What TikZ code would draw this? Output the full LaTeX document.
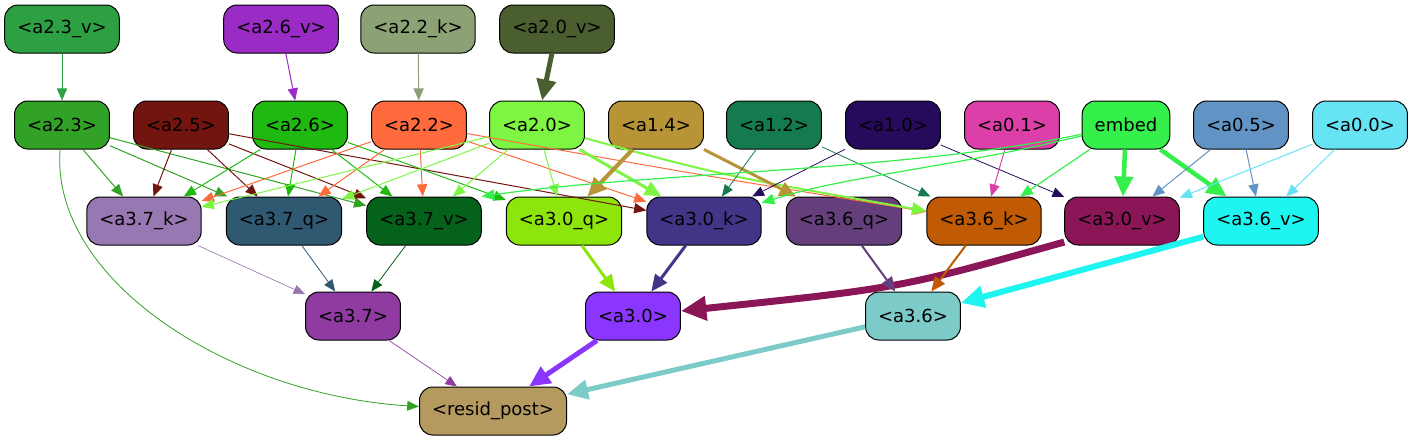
\documentclass[tikz,border=0pt]{standalone}
\usepackage{fontspec}
\setmainfont{DejaVu Sans}
\usetikzlibrary{arrows.meta}

\definecolor{cAtwoTv}{HTML}{2CA043}
\definecolor{cAtwoSv}{HTML}{9A2BC5}
\definecolor{cAtwoBk}{HTML}{8DA274}
\definecolor{cAtwoZv}{HTML}{4A5E30}
\definecolor{cAtwoT}{HTML}{31A225}
\definecolor{cAtwoF}{HTML}{73150F}
\definecolor{cAtwoS}{HTML}{1FB912}
\definecolor{cAtwoB}{HTML}{FF6B3D}
\definecolor{cAtwoZ}{HTML}{7EF542}
\definecolor{cAoneF}{HTML}{B79435}
\definecolor{cAoneB}{HTML}{167A4F}
\definecolor{cAoneZ}{HTML}{260A5C}
\definecolor{cAzeroO}{HTML}{DD3FA8}
\definecolor{cEmbed}{HTML}{35EF4A}
\definecolor{cAzeroF}{HTML}{6193C4}
\definecolor{cAzeroZ}{HTML}{66E4F4}
\definecolor{cSevK}{HTML}{9878B2}
\definecolor{cSevQ}{HTML}{2F5871}
\definecolor{cSevV}{HTML}{05621B}
\definecolor{cZerQ}{HTML}{8DE50B}
\definecolor{cZerK}{HTML}{423587}
\definecolor{cSixQ}{HTML}{643F7B}
\definecolor{cSixK}{HTML}{C05A05}
\definecolor{cZerV}{HTML}{8A1657}
\definecolor{cSixV}{HTML}{1FF5F0}
\definecolor{cSev}{HTML}{8F3BA2}
\definecolor{cZer}{HTML}{8B36FC}
\definecolor{cSix}{HTML}{7CCBC9}
\definecolor{cResid}{HTML}{B59A60}

\begin{document}
\begin{tikzpicture}[x=0.75pt, y=-0.75pt,
	box/.style={draw=black, line width=0.75pt, rounded corners=10pt,
		minimum height=36pt, inner xsep=9.4pt, inner ysep=0pt,
		font=\fontsize{13.5}{16}\selectfont},
	wire/.style={-{Triangle[length=7.5pt 2.2, width=6pt 2.2]}, line width=0.75pt}]
	
	\useasboundingbox (0,0) rectangle (1413,443);
	
	% top inputs
	\node[box, fill=cAtwoTv] (a23v) at (62,29) {<a2.3\_v>};
	\node[box, fill=cAtwoSv] (a26v) at (281,29) {<a2.6\_v>};
	\node[box, fill=cAtwoBk] (a22k) at (418,29) {<a2.2\_k>};
	\node[box, fill=cAtwoZv] (a20v) at (557,29) {<a2.0\_v>};
	
	% second row
	\node[box, fill=cAtwoT] (a23) at (62,125) {<a2.3>};
	\node[box, fill=cAtwoF] (a25) at (181,125) {<a2.5>};
	\node[box, fill=cAtwoS] (a26) at (300,125) {<a2.6>};
	\node[box, fill=cAtwoB] (a22) at (419,125) {<a2.2>};
	\node[box, fill=cAtwoZ] (a20) at (537,125) {<a2.0>};
	\node[box, fill=cAoneF] (a14) at (656,125) {<a1.4>};
	\node[box, fill=cAoneB] (a12) at (774,125) {<a1.2>};
	\node[box, fill=cAoneZ] (a10) at (893,125) {<a1.0>};
	\node[box, fill=cAzeroO] (a01) at (1012,125) {<a0.1>};
	\node[box, fill=cEmbed] (embed) at (1126,125) {embed};
	\node[box, fill=cAzeroF] (a05) at (1241,125) {<a0.5>};
	\node[box, fill=cAzeroZ] (a00) at (1360,125) {<a0.0>};
	
	% third row
	\node[box, fill=cSevK] (a37k) at (144,221) {<a3.7\_k>};
	\node[box, fill=cSevQ] (a37q) at (284,221) {<a3.7\_q>};
	\node[box, fill=cSevV] (a37v) at (424,221) {<a3.7\_v>};
	\node[box, fill=cZerQ] (a30q) at (564,221) {<a3.0\_q>};
	\node[box, fill=cZerK] (a30k) at (704,221) {<a3.0\_k>};
	\node[box, fill=cSixQ] (a36q) at (844,221) {<a3.6\_q>};
	\node[box, fill=cSixK] (a36k) at (984,221) {<a3.6\_k>};
	\node[box, fill=cZerV] (a30v) at (1122,221) {<a3.0\_v>};
	\node[box, fill=cSixV] (a36v) at (1261,221) {<a3.6\_v>};
	
	% fourth row and output
	\node[box, fill=cSev] (a37) at (353,316) {<a3.7>};
	\node[box, fill=cZer] (a30) at (633,316) {<a3.0>};
	\node[box, fill=cSix] (a36) at (913,316) {<a3.6>};
	\node[box, fill=cResid] (resid) at (493,411) {<resid\_post>};
	
	% inputs
	\draw[wire, cAtwoTv] (a23v) -- (a23);
	\draw[wire, cAtwoSv] (a26v) -- (a26);
	\draw[wire, cAtwoBk] (a22k) -- (a22);
	\draw[wire, cAtwoZv, line width=3.75pt] (a20v) -- (a20);
	
	\draw[wire, cAtwoT] (a23) -- (a37k);
	\draw[wire, cAtwoT] (a23) -- (a37q);
	\draw[wire, cAtwoT] (a23) -- (a37v);
	\draw[wire, cAtwoT, line width=0.6pt] (a23) .. controls (50,280) and (230,395) .. (resid);
	
	\draw[wire, cAtwoF] (a25) -- (a37k);
	\draw[wire, cAtwoF] (a25) -- (a37q);
	\draw[wire, cAtwoF] (a25) -- (a37v);
	\draw[wire, cAtwoF] (a25) -- (a30k);
	
	\draw[wire, cAtwoS] (a26) -- (a37k);
	\draw[wire, cAtwoS] (a26) -- (a37q);
	\draw[wire, cAtwoS] (a26) -- (a37v);
	\draw[wire, cAtwoS] (a26) -- (a30q);
	
	\draw[wire, cAtwoB] (a22) -- (a37k);
	\draw[wire, cAtwoB] (a22) -- (a37q);
	\draw[wire, cAtwoB] (a22) -- (a37v);
	\draw[wire, cAtwoB] (a22) -- (a30k);
	\draw[wire, cAtwoB] (a22) .. controls (700,175) .. (a36k);
	
	\draw[wire, cAtwoZ] (a20) -- (a37k);
	\draw[wire, cAtwoZ] (a20) -- (a37q);
	\draw[wire, cAtwoZ] (a20) -- (a37v);
	\draw[wire, cAtwoZ] (a20) -- (a30q);
	\draw[wire, cAtwoZ, line width=2.25pt] (a20) -- (a30k);
	\draw[wire, cAtwoZ, line width=1.5pt] (a20) .. controls (720,175) .. (a36k);
	
	\draw[wire, cAoneF, line width=3pt] (a14) -- (a30q);
	\draw[wire, cAoneF, line width=2.25pt] (a14) -- (a36q);
	
	\draw[wire, cAoneB, line width=0.6pt] (a12) -- (a30k);
	\draw[wire, cAoneB, line width=0.6pt] (a12) -- (a36k);
	
	\draw[wire, cAoneZ, line width=0.6pt] (a10) -- (a30k);
	\draw[wire, cAoneZ, line width=0.6pt] (a10) -- (a30v);
	
	\draw[wire, cAzeroO] (a01) -- (a36k);
	
	\draw[wire, cEmbed, line width=0.9pt] (embed) .. controls (900,172) and (650,172) .. (a37v.north east);
	\draw[wire, cEmbed, line width=0.9pt] (embed) .. controls (950,168) and (850,175) .. (a30k);
	\draw[wire, cEmbed, line width=0.9pt] (embed) -- (a36k);
	\draw[wire, cEmbed, line width=3.4pt] (embed) -- (a30v);
	\draw[wire, cEmbed, line width=3.4pt] (embed) -- (a36v);
	
	\draw[wire, cAzeroF] (a05) -- (a30v);
	\draw[wire, cAzeroF] (a05) -- (a36v);
	\draw[wire, cAzeroZ] (a00) -- (a30v);
	\draw[wire, cAzeroZ] (a00) -- (a36v);
	
	% into the layer outputs
	\draw[wire, cSevK, line width=0.5pt] (a37k) -- (a37);
	\draw[wire, cSevQ, line width=0.6pt] (a37q) -- (a37);
	\draw[wire, cSevV, line width=0.6pt] (a37v) -- (a37);
	
	\draw[wire, cZerQ, line width=2.25pt] (a30q) -- (a30);
	\draw[wire, cZerK, line width=2.25pt] (a30k) -- (a30);
	\draw[wire, cZerV, line width=5.25pt] (a30v.200) .. controls (900,288) .. (a30);
	
	\draw[wire, cSixQ, line width=1.5pt] (a36q) -- (a36);
	\draw[wire, cSixK, line width=1.5pt] (a36k) -- (a36);
	\draw[wire, cSixV, line width=4.5pt] (a36v) -- (a36);
	
	\draw[wire, cSev, line width=0.5pt] (a37) -- (resid);
	\draw[wire, cZer, line width=3.75pt] (a30) -- (resid);
	\draw[wire, cSix, line width=3.75pt] (a36) -- (resid);
\end{tikzpicture}
\end{document}
